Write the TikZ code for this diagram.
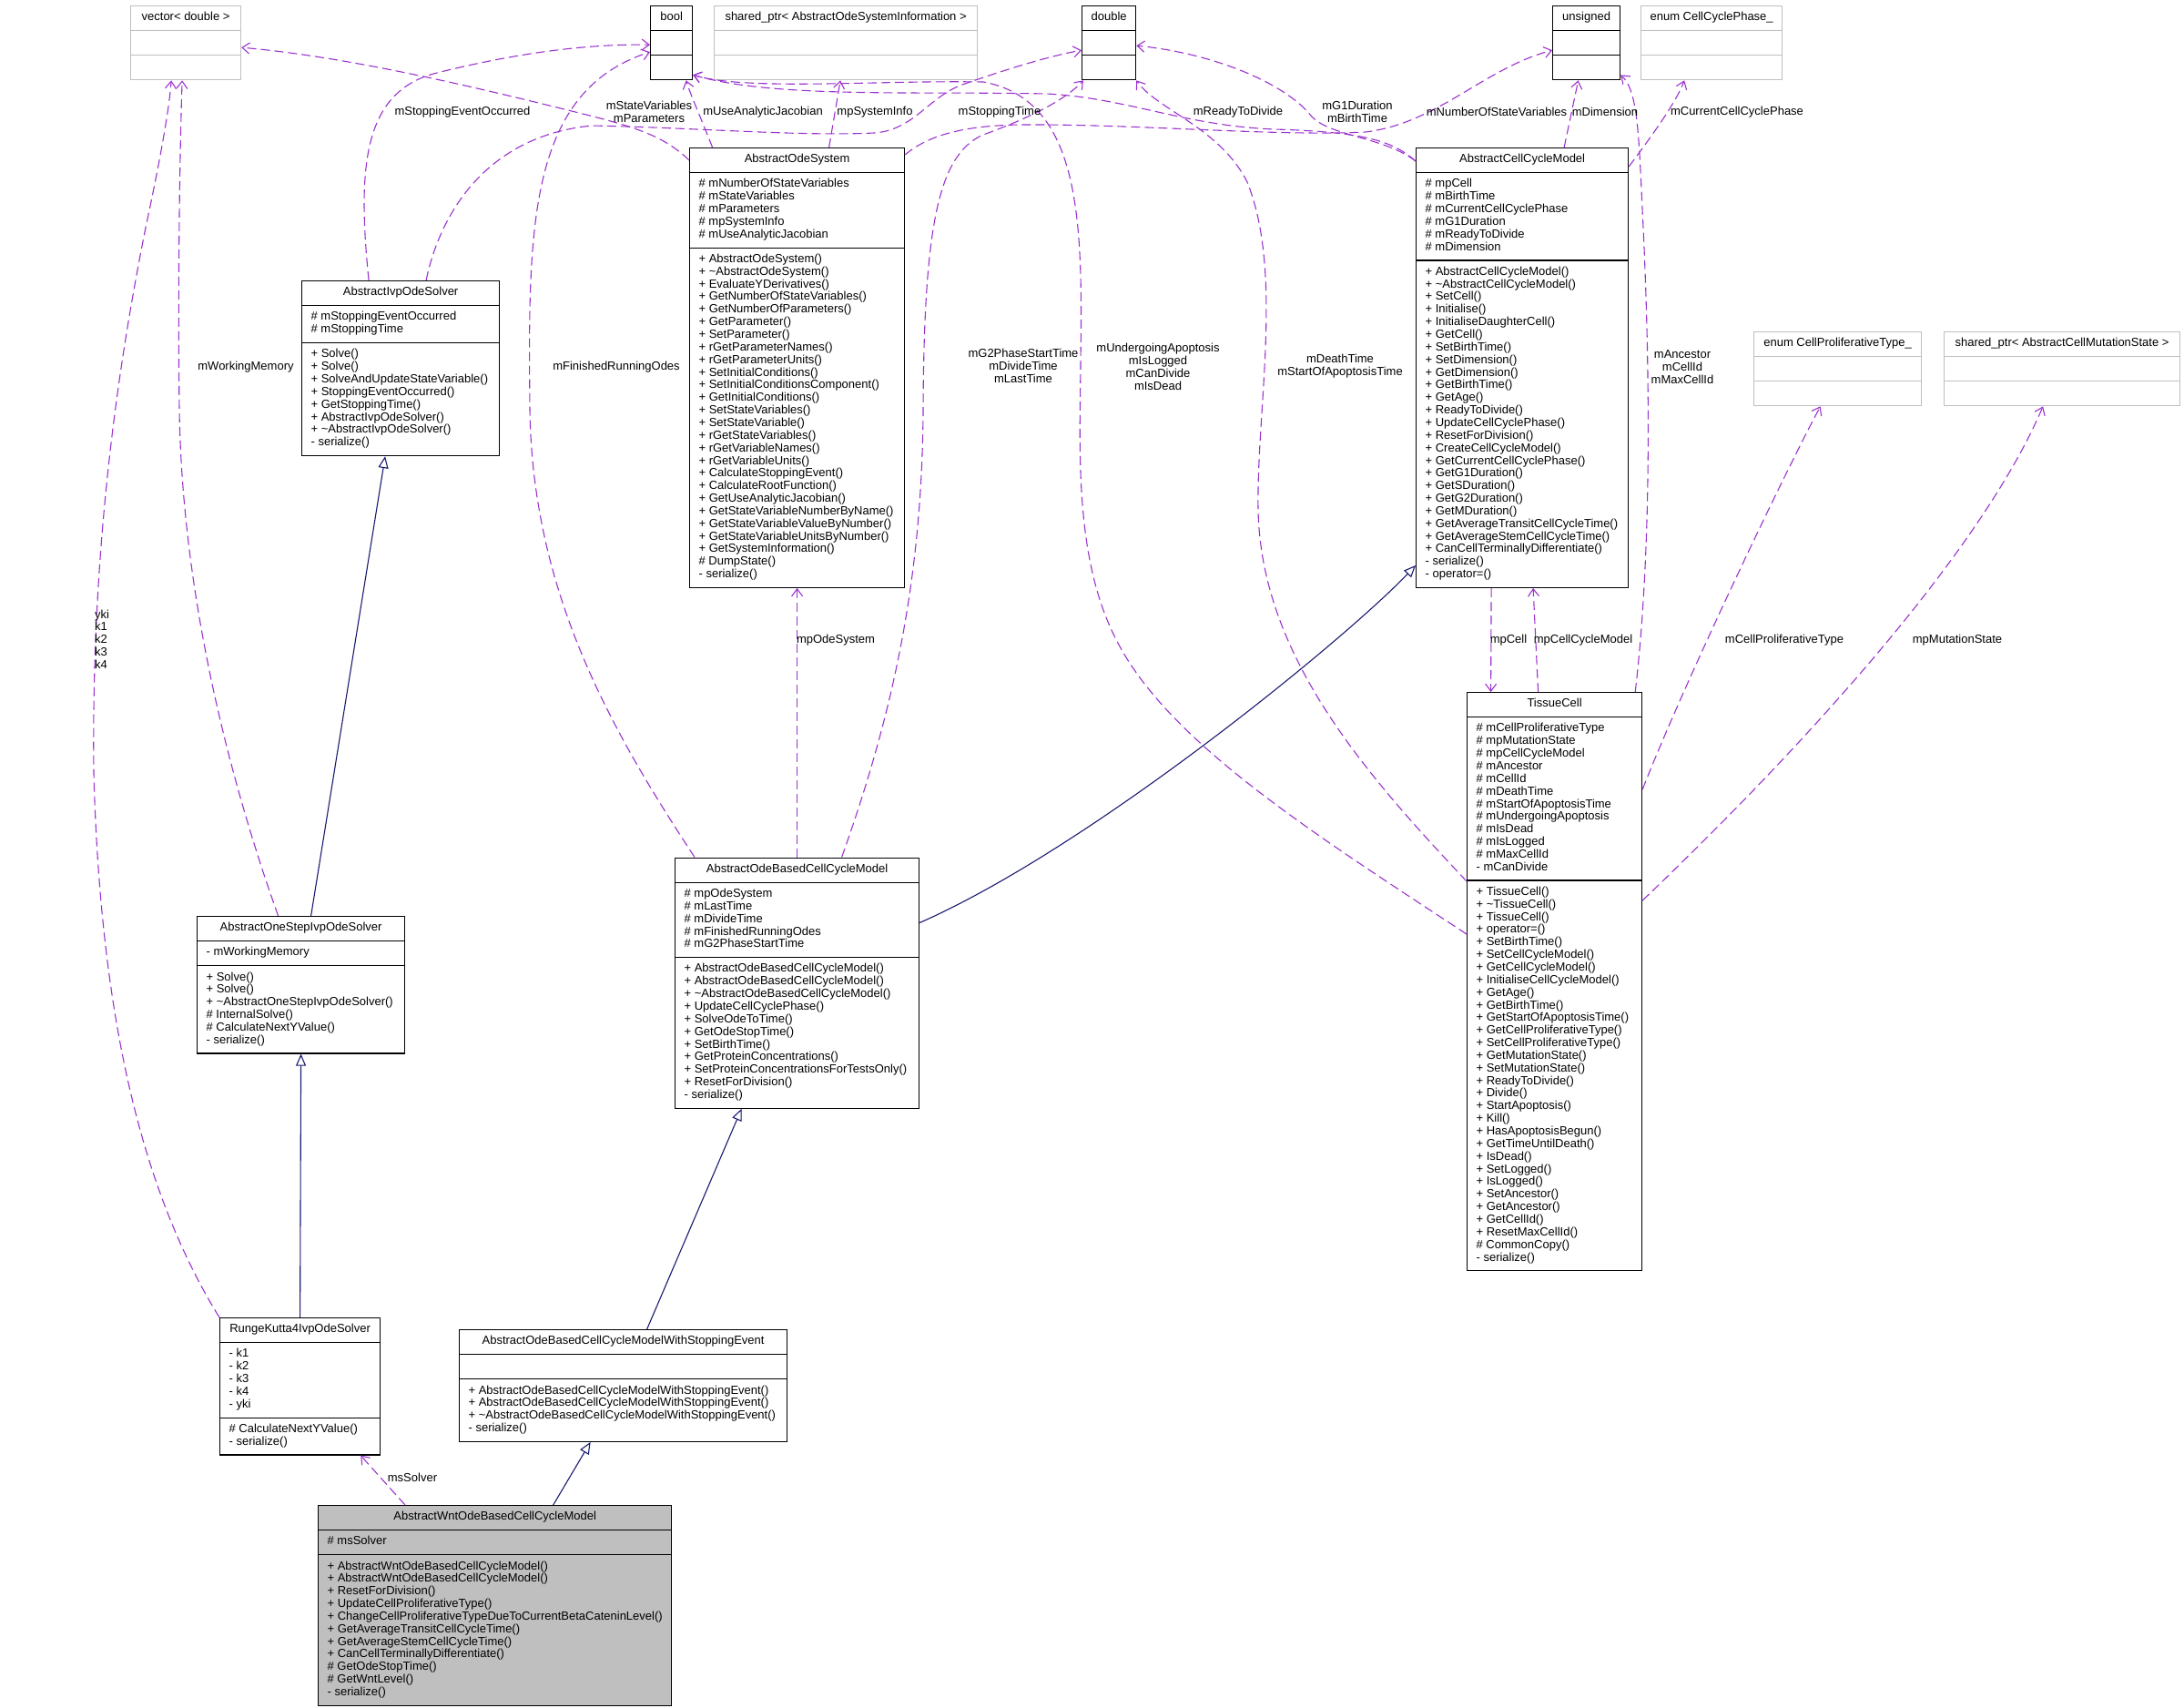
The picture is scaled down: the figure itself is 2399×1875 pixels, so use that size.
\documentclass[tikz,border=0pt]{standalone}
\usepackage{fontspec}
\setmainfont{Liberation Sans}
\usetikzlibrary{shapes.multipart,arrows.meta,calc}
\definecolor{usecol}{HTML}{9A32CD}
\definecolor{isacol}{HTML}{191970}
\definecolor{extcol}{HTML}{BFBFBF}
\newcommand{\dxfont}{\fontsize{13}{13.85}\selectfont}
\tikzset{
  cls/.style={draw=black, line width=1.2pt, fill=white, rectangle split, rectangle split parts=3,
    rectangle split part align={center,left,left}, align=left, inner xsep=10pt, inner ysep=6pt,
    minimum width=#1, anchor=north west, font=\dxfont},
  ext/.style={cls=#1, draw=extcol},
  focus/.style={cls=#1, fill=extcol},
  isa/.style={draw=isacol, line width=1.1pt, -{Triangle[open, length=13pt, width=11pt, fill=white]}},
  uses/.style={draw=usecol, line width=1.1pt, dash pattern=on 10pt off 5pt, -{Straight Barb[length=8pt, width=12pt]}},
  lbl/.style={font=\dxfont, align=center, inner sep=0pt},
}
\begin{document}
\begin{tikzpicture}[x=1pt, y=-1pt]
  \useasboundingbox (0,0) rectangle (2399,1875);
  % value types along the top
  \node[ext=121pt] (vec) at (143,6) {vector< double >\strut\nodepart{two}\strut\nodepart{three}\strut};
  \node[cls=46pt] (boolt) at (714,6) {bool\strut\nodepart{two}\strut\nodepart{three}\strut};
  \node[ext=289pt] (sysinfo) at (784,6) {shared\_ptr< AbstractOdeSystemInformation >\strut\nodepart{two}\strut\nodepart{three}\strut};
  \node[cls=59pt] (dbl) at (1188,6) {double\strut\nodepart{two}\strut\nodepart{three}\strut};
  \node[cls=74pt] (uns) at (1705,6) {unsigned\strut\nodepart{two}\strut\nodepart{three}\strut};
  \node[ext=155pt] (phase) at (1802,6) {enum CellCyclePhase\_\strut\nodepart{two}\strut\nodepart{three}\strut};
  \node[ext=184pt] (proltype) at (1926,364) {enum CellProliferativeType\_\strut\nodepart{two}\strut\nodepart{three}\strut};
  \node[ext=259pt] (mutstate) at (2135,364) {shared\_ptr< AbstractCellMutationState >\strut\nodepart{two}\strut\nodepart{three}\strut};

  % classes
  \node[cls=236pt] (odesys) at (757,162) {AbstractOdeSystem\strut
    \nodepart{two}\strut\# mNumberOfStateVariables\\\# mStateVariables\\\# mParameters\\\# mpSystemInfo\\\# mUseAnalyticJacobian\strut
    \nodepart{three}\strut+ AbstractOdeSystem()\\+ \textasciitilde AbstractOdeSystem()\\+ EvaluateYDerivatives()\\+ GetNumberOfStateVariables()\\+ GetNumberOfParameters()\\+ GetParameter()\\+ SetParameter()\\+ rGetParameterNames()\\+ rGetParameterUnits()\\+ SetInitialConditions()\\+ SetInitialConditionsComponent()\\+ GetInitialConditions()\\+ SetStateVariables()\\+ SetStateVariable()\\+ rGetStateVariables()\\+ rGetVariableNames()\\+ rGetVariableUnits()\\+ CalculateStoppingEvent()\\+ CalculateRootFunction()\\+ GetUseAnalyticJacobian()\\+ GetStateVariableNumberByName()\\+ GetStateVariableValueByNumber()\\+ GetStateVariableUnitsByNumber()\\+ GetSystemInformation()\\\# DumpState()\\- serialize()\strut};
  \node[cls=217pt] (ivp) at (331,308) {AbstractIvpOdeSolver\strut
    \nodepart{two}\strut\# mStoppingEventOccurred\\\# mStoppingTime\strut
    \nodepart{three}\strut+ Solve()\\+ Solve()\\+ SolveAndUpdateStateVariable()\\+ StoppingEventOccurred()\\+ GetStoppingTime()\\+ AbstractIvpOdeSolver()\\+ \textasciitilde AbstractIvpOdeSolver()\\- serialize()\strut};
  \node[cls=233pt] (accm) at (1555,162) {AbstractCellCycleModel\strut
    \nodepart{two}\strut\# mpCell\\\# mBirthTime\\\# mCurrentCellCyclePhase\\\# mG1Duration\\\# mReadyToDivide\\\# mDimension\strut
    \nodepart{three}\strut+ AbstractCellCycleModel()\\+ \textasciitilde AbstractCellCycleModel()\\+ SetCell()\\+ Initialise()\\+ InitialiseDaughterCell()\\+ GetCell()\\+ SetBirthTime()\\+ SetDimension()\\+ GetDimension()\\+ GetBirthTime()\\+ GetAge()\\+ ReadyToDivide()\\+ UpdateCellCyclePhase()\\+ ResetForDivision()\\+ CreateCellCycleModel()\\+ GetCurrentCellCyclePhase()\\+ GetG1Duration()\\+ GetSDuration()\\+ GetG2Duration()\\+ GetMDuration()\\+ GetAverageTransitCellCycleTime()\\+ GetAverageStemCellCycleTime()\\+ CanCellTerminallyDifferentiate()\\- serialize()\\- operator=()\strut};
  \node[cls=192pt] (tissue) at (1611,760) {TissueCell\strut
    \nodepart{two}\strut\# mCellProliferativeType\\\# mpMutationState\\\# mpCellCycleModel\\\# mAncestor\\\# mCellId\\\# mDeathTime\\\# mStartOfApoptosisTime\\\# mUndergoingApoptosis\\\# mIsDead\\\# mIsLogged\\\# mMaxCellId\\- mCanDivide\strut
    \nodepart{three}\strut+ TissueCell()\\+ \textasciitilde TissueCell()\\+ TissueCell()\\+ operator=()\\+ SetBirthTime()\\+ SetCellCycleModel()\\+ GetCellCycleModel()\\+ InitialiseCellCycleModel()\\+ GetAge()\\+ GetBirthTime()\\+ GetStartOfApoptosisTime()\\+ GetCellProliferativeType()\\+ SetCellProliferativeType()\\+ GetMutationState()\\+ SetMutationState()\\+ ReadyToDivide()\\+ Divide()\\+ StartApoptosis()\\+ Kill()\\+ HasApoptosisBegun()\\+ GetTimeUntilDeath()\\+ IsDead()\\+ SetLogged()\\+ IsLogged()\\+ SetAncestor()\\+ GetAncestor()\\+ GetCellId()\\+ ResetMaxCellId()\\\# CommonCopy()\\- serialize()\strut};
  \node[cls=268pt] (odebased) at (741,941.5) {AbstractOdeBasedCellCycleModel\strut
    \nodepart{two}\strut\# mpOdeSystem\\\# mLastTime\\\# mDivideTime\\\# mFinishedRunningOdes\\\# mG2PhaseStartTime\strut
    \nodepart{three}\strut+ AbstractOdeBasedCellCycleModel()\\+ AbstractOdeBasedCellCycleModel()\\+ \textasciitilde AbstractOdeBasedCellCycleModel()\\+ UpdateCellCyclePhase()\\+ SolveOdeToTime()\\+ GetOdeStopTime()\\+ SetBirthTime()\\+ GetProteinConcentrations()\\+ SetProteinConcentrationsForTestsOnly()\\+ ResetForDivision()\\- serialize()\strut};
  \node[cls=228pt] (onestep) at (216,1006) {AbstractOneStepIvpOdeSolver\strut
    \nodepart{two}\strut- mWorkingMemory\strut
    \nodepart{three}\strut+ Solve()\\+ Solve()\\+ \textasciitilde AbstractOneStepIvpOdeSolver()\\\# InternalSolve()\\\# CalculateNextYValue()\\- serialize()\strut};
  \node[cls=176pt] (rk4) at (241,1447) {RungeKutta4IvpOdeSolver\strut
    \nodepart{two}\strut- k1\\- k2\\- k3\\- k4\\- yki\strut
    \nodepart{three}\strut\# CalculateNextYValue()\\- serialize()\strut};
  \node[cls=360pt] (withstop) at (504,1460) {AbstractOdeBasedCellCycleModelWithStoppingEvent\strut
    \nodepart{two}\strut
    \nodepart{three}\strut+ AbstractOdeBasedCellCycleModelWithStoppingEvent()\\+ AbstractOdeBasedCellCycleModelWithStoppingEvent()\\+ \textasciitilde AbstractOdeBasedCellCycleModelWithStoppingEvent()\\- serialize()\strut};
  \node[focus=386pt] (wnt) at (349,1653) {AbstractWntOdeBasedCellCycleModel\strut
    \nodepart{two}\strut\# msSolver\strut
    \nodepart{three}\strut+ AbstractWntOdeBasedCellCycleModel()\\+ AbstractWntOdeBasedCellCycleModel()\\+ ResetForDivision()\\+ UpdateCellProliferativeType()\\+ ChangeCellProliferativeTypeDueToCurrentBetaCateninLevel()\\+ GetAverageTransitCellCycleTime()\\+ GetAverageStemCellCycleTime()\\+ CanCellTerminallyDifferentiate()\\\# GetOdeStopTime()\\\# GetWntLevel()\\- serialize()\strut};

  % inheritance
  \draw[isa] (rk4.north) -- (onestep.south);
  \draw[isa] ($(onestep.north)+(11,0)$) -- ($(ivp.south)+(-17,0)$);
  \draw[isa] ($(withstop.north)+(26,0)$) -- ($(odebased.south)+(-61,0)$);
  \draw[isa] ($(wnt.north)+(64,0)$) -- ($(withstop.south)+(-36,0)$);
  \draw[isa] ($(odebased.north east)+(0,72)$) .. controls (1200,930) and (1480,700) .. ($(accm.south west)+(0,-25)$);

  % usage
  \draw[uses] ($(ivp.north)+(-35,0)$) .. controls (392,180) and (400,100) .. (480,80) .. controls (560,60) and (640,48) .. ($(boolt.west)+(0,2)$);
  \draw[uses] ($(ivp.north)+(28,0)$) .. controls (482,240) and (530,150) .. (650,138) .. controls (760,140) and (880,150) .. (960,146) .. controls (1005,143) and (1020,105) .. (1060,92) .. controls (1100,78) and (1150,62) .. ($(dbl.west)+(0,8)$);
  \draw[uses] ($(odesys.north west)+(0,14)$) .. controls (730,150) and (700,140) .. (640,125) .. controls (520,95) and (380,62) .. ($(vec.east)+(0,5)$);
  \draw[uses] ($(odesys.north)+(-93,0)$) .. controls (770,130) and (757,100) .. ($(boolt.south)+(16,0)$);
  \draw[uses] ($(odesys.north)+(35,0)$) -- ($(sysinfo.south)+(-6,0)$);
  \draw[uses] ($(odesys.north east)+(0,8)$) .. controls (1020,148) and (1060,138) .. (1120,137) .. controls (1250,136) and (1400,150) .. (1500,145) .. controls (1580,135) and (1630,75) .. ($(uns.west)+(0,8)$);
  \draw[uses] (odebased.north) -- (odesys.south);
  \draw[uses] ($(odebased.north west)+(22,0)$) .. controls (670,800) and (585,650) .. (582,450) .. controls (580,250) and (580,100) .. ($(boolt.west)+(0,10)$);
  \draw[uses] ($(odebased.north)+(49,0)$) .. controls (975,800) and (1013,650) .. (1014,450) .. controls (1015,250) and (1030,170) .. (1080,148) .. controls (1130,130) and (1170,110) .. ($(dbl.south west)+(2,0)$);
  \draw[uses] ($(tissue.north west)+(0,266)$) .. controls (1450,920) and (1290,820) .. (1230,710) .. controls (1180,620) and (1186,500) .. (1187,400) .. controls (1189,250) and (1190,110) .. (1080,90) .. controls (960,88) and (820,100) .. ($(boolt.south east)+(0,-6)$);
  \draw[uses] ($(accm.north west)+(0,15)$) .. controls (1530,155) and (1500,145) .. (1400,142) .. controls (1300,138) and (1240,108) .. (1150,103) .. controls (1000,100) and (850,108) .. ($(boolt.south east)+(0,-6)$);
  \draw[uses] ($(accm.north west)+(0,15)$) .. controls (1520,150) and (1460,150) .. (1440,127) .. controls (1410,90) and (1330,58) .. ($(dbl.east)+(0,3)$);
  \draw[uses] ($(accm.north)+(46,0)$) -- ($(uns.south)+(-9,0)$);
  \draw[uses] ($(accm.north east)+(0,21)$) .. controls (1810,155) and (1840,115) .. ($(phase.south)+(-30,0)$);
  \draw[uses] ($(tissue.north east)+(-8,0)$) .. controls (1815,600) and (1812,400) .. (1805,250) .. controls (1800,150) and (1800,100) .. ($(uns.south east)+(0,-6)$);
  \draw[uses] ($(accm.south)+(-34,0)$) -- ($(tissue.north)+(-70,0)$);
  \draw[uses] ($(tissue.north)+(-18,0)$) -- ($(accm.south)+(12,0)$);
  \draw[uses] ($(tissue.north west)+(0,208)$) .. controls (1500,850) and (1385,720) .. (1382,560) .. controls (1380,450) and (1410,300) .. (1370,200) .. controls (1340,140) and (1270,120) .. (dbl.south east);
  \draw[uses] ($(tissue.north east)+(0,107)$) .. controls (1850,750) and (1960,520) .. ($(proltype.south)+(-19,0)$);
  \draw[uses] ($(tissue.north east)+(0,229)$) .. controls (1950,850) and (2170,620) .. ($(mutstate.south)+(-21,0)$);
  \draw[uses] ($(onestep.north)+(-25,0)$) .. controls (250,850) and (200,650) .. (197,450) .. controls (195,300) and (198,150) .. ($(vec.south)+(-4,0)$);
  \draw[uses] (rk4.north west) .. controls (150,1300) and (110,1100) .. (103,850) .. controls (100,600) and (130,400) .. (160,250) .. controls (175,180) and (186,120) .. ($(vec.south)+(-16,0)$);
  \draw[uses] ($(wnt.north west)+(96,0)$) -- ($(rk4.south east)+(-22,0)$);

  % edge labels
  \node[lbl] (l-stopev) at (508,123) {mStoppingEventOccurred};
  \node[lbl] (l-statevars) at (713,123) {mStateVariables\\mParameters};
  \node[lbl] (l-jac) at (838,123) {mUseAnalyticJacobian};
  \node[lbl] (l-sysinfo) at (961,123) {mpSystemInfo};
  \node[lbl] (l-stoptime) at (1098,123) {mStoppingTime};
  \node[lbl] (l-ready) at (1360,123) {mReadyToDivide};
  \node[lbl] (l-g1) at (1491,123) {mG1Duration\\mBirthTime};
  \node[lbl] (l-nstate) at (1644,123) {mNumberOfStateVariables};
  \node[lbl] (l-dim) at (1763,123) {mDimension};
  \node[lbl] (l-phase) at (1908,123) {mCurrentCellCyclePhase};
  \node[lbl] (l-work) at (270,403) {mWorkingMemory};
  \node[lbl] (l-finished) at (677,403) {mFinishedRunningOdes};
  \node[lbl] (l-g2) at (1124,402) {mG2PhaseStartTime\\mDivideTime\\mLastTime};
  \node[lbl] (l-apopt) at (1272,403) {mUndergoingApoptosis\\mIsLogged\\mCanDivide\\mIsDead};
  \node[lbl] (l-death) at (1472,402) {mDeathTime\\mStartOfApoptosisTime};
  \node[lbl] (l-anc) at (1848,403) {mAncestor\\mCellId\\mMaxCellId};
  \node[lbl] (l-odesys) at (918,703) {mpOdeSystem};
  \node[lbl] (l-cell) at (1657,703) {mpCell};
  \node[lbl] (l-ccm) at (1739,703) {mpCellCycleModel};
  \node[lbl] (l-prolif) at (1960,703) {mCellProliferativeType};
  \node[lbl] (l-mut) at (2150,703) {mpMutationState};
  \node[lbl, align=left, anchor=west] (l-rk) at (104,702) {yki\\k1\\k2\\k3\\k4};
  \node[lbl] (l-solver) at (453,1623) {msSolver};
\end{tikzpicture}
\end{document}
